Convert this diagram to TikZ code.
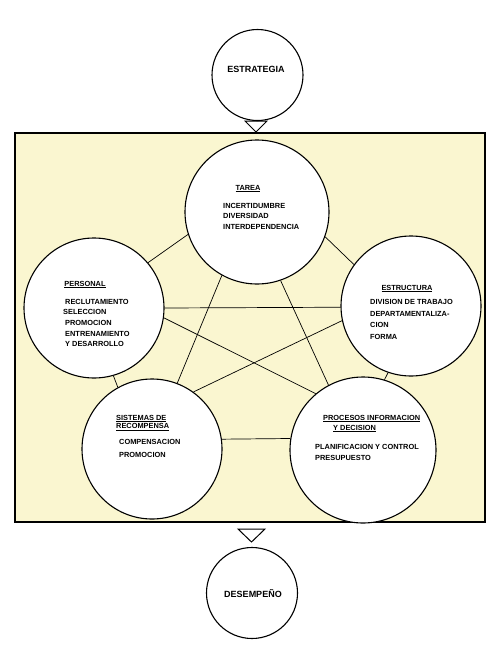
\documentclass[tikz,border=0pt]{standalone}
\usepackage{fontspec}
\setmainfont{Liberation Sans}
\definecolor{paper}{RGB}{250,246,208}
\begin{document}
\begin{tikzpicture}[x=1pt,y=-1pt,
  circ/.style={circle,draw,line width=1.1pt,fill=white,inner sep=0pt},
  big/.style={circ,minimum size=140pt},
  small/.style={circ,minimum size=91pt},
  lbl/.style={anchor=base west,inner sep=0pt,font=\fontsize{7.4}{8}\selectfont\bfseries},
  head/.style={lbl,anchor=base},
  title/.style={inner sep=0pt,font=\fontsize{9}{10}\selectfont\bfseries},
  link/.style={line width=0.7pt},
  tri/.style={draw,line width=1pt,fill=white,line join=miter}]
\useasboundingbox (0,0) rectangle (500,654);
\fill[white] (0,0) rectangle (500,654);
% frame
\draw[line width=1.3pt,fill=paper] (15,133) rectangle (485,522);
% triangles
\draw[tri] (245,121) -- (267,121) -- (256,132) -- cycle;
\draw[tri] (238,529) -- (265,529) -- (251.5,542) -- cycle;
% outer circles
\node[small] (estr) at (257.5,75) {};
\node[title] (estrt) at (256,69) {ESTRATEGIA};
\node[small] (des) at (252,593) {};
\node[title] (dest) at (253,594) {DESEMPEÑO};
% inner circles
\node[big,minimum size=144pt] (T) at (257,212) {};
\node[big] (P) at (94,308) {};
\node[big] (E) at (411,306) {};
\node[big] (S) at (152,449) {};
\node[big,minimum size=146pt] (R) at (363,450) {};
% connectors
\draw[link] (T.198) -- (P.40);
\draw[link] (T.340) -- (E.144);
\draw[link] (T.241) -- (S.69);
\draw[link] (T.289) -- (R.118);
\draw[link] (P.0) -- (E.181.5);
\draw[link] (P.352) -- (R.130);
\draw[link] (P.286) -- (S.119);
\draw[link] (E.192) -- (S.54);
\draw[link] (E.251) -- (R.73);
\draw[link] (S.8) -- (R.171);
% Tarea text
\node[head] (t0) at (248,190) {\underline{TAREA}};
\node[lbl] (t1) at (223,208) {INCERTIDUMBRE};
\node[lbl] (t2) at (223,218.5) {DIVERSIDAD};
\node[lbl] (t3) at (223,229) {INTERDEPENDENCIA};
% Personal text
\node[head] (p0) at (85,286) {\underline{PERSONAL}};
\node[lbl] (p1) at (65,304) {RECLUTAMIENTO};
\node[lbl] (p2) at (63,314.5) {SELECCION};
\node[lbl] (p3) at (65,325) {PROMOCION};
\node[lbl] (p4) at (65,336) {ENTRENAMIENTO};
\node[lbl] (p5) at (65,346) {Y DESARROLLO};
% Estructura text
\node[head] (e0) at (407,290) {\underline{ESTRUCTURA}};
\node[lbl] (e1) at (370,304) {DIVISION DE TRABAJO};
\node[lbl] (e2) at (370,316) {DEPARTAMENTALIZA-};
\node[lbl] (e3) at (370,327) {CION};
\node[lbl] (e4) at (370,339) {FORMA};
% Sistemas text
\node[lbl] (s0) at (116,420) {\underline{SISTEMAS DE}};
\node[lbl] (s1) at (116,428.5) {\underline{RECOMPENSA}};
\node[lbl] (s2) at (119,444) {COMPENSACION};
\node[lbl] (s3) at (119,457) {PROMOCION};
% Procesos text
\node[lbl] (r0) at (323,420) {\underline{PROCESOS INFORMACION}};
\node[lbl] (r1) at (333,430) {\underline{Y DECISION}};
\node[lbl] (r2) at (315,449) {PLANIFICACION Y CONTROL};
\node[lbl] (r3) at (315,460) {PRESUPUESTO};
\end{tikzpicture}
\end{document}
